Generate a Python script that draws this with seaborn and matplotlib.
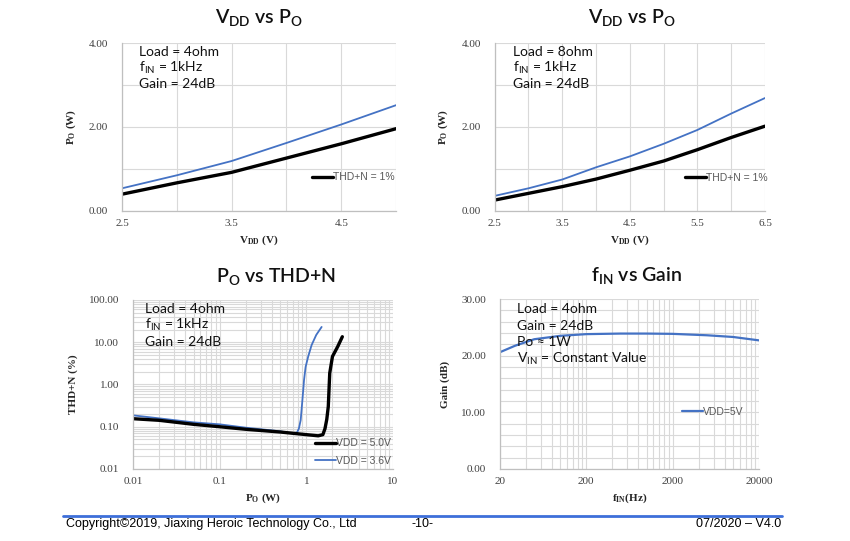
import matplotlib
matplotlib.use("Agg")
import matplotlib.pyplot as plt
import matplotlib.ticker as mticker
from matplotlib.lines import Line2D
import numpy as np
import seaborn as sns

# --- data ---
vdd_4ohm = [2.5, 3.0, 3.5, 4.0, 4.5, 5.0]
po_4ohm_1pct = [0.40, 0.67, 0.92, 1.26, 1.60, 1.96]
po_4ohm_10pct = [0.54, 0.85, 1.19, 1.62, 2.06, 2.52]

vdd_8ohm = [2.5, 3.0, 3.5, 4.0, 4.5, 5.0, 5.5, 6.0, 6.5]
po_8ohm_1pct = [0.26, 0.42, 0.58, 0.76, 0.97, 1.19, 1.46, 1.75, 2.02]
po_8ohm_10pct = [0.36, 0.54, 0.75, 1.04, 1.30, 1.60, 1.93, 2.32, 2.69]

po_5v0 = [0.01, 0.02, 0.05, 0.1, 0.2, 0.5, 1.0, 1.37, 1.55, 1.64, 1.72, 1.79, 1.86, 2.0, 2.3, 2.6]
thd_5v0 = [0.155, 0.142, 0.114, 0.100, 0.087, 0.075, 0.065, 0.061, 0.065, 0.09, 0.15, 0.3, 1.85, 4.6, 7.9, 13.5]
po_3v6 = [0.01, 0.02, 0.05, 0.1, 0.2, 0.5, 0.7, 0.78, 0.82, 0.86, 0.9, 0.94, 0.98, 1.05, 1.15, 1.3, 1.5]
thd_3v6 = [0.186, 0.158, 0.127, 0.114, 0.095, 0.078, 0.069, 0.073, 0.091, 0.144, 0.43, 1.28, 2.6, 4.6, 8.6, 14.9, 23.0]

freq_hz = [20, 30, 50, 100, 200, 500, 1000, 2000, 5000, 10000, 20000]
gain_db = [20.6, 21.75, 22.9, 23.5, 23.8, 23.9, 23.9, 23.85, 23.6, 23.3, 22.7]

BLUE = "#4472C4"
GRID = "#d9d9d9"
SANS = ["Lato", "DejaVu Sans"]
SERIF = "Liberation Serif"

sns.set_style("white")
plt.rcParams["font.family"] = SANS

fig = plt.figure(figsize=(8.5, 5.41), dpi=100)


def style_axes(ax, xlabel, ylabel):
    for side in ("top", "right"):
        ax.spines[side].set_visible(False)
    for side in ("left", "bottom"):
        ax.spines[side].set_color("#bfbfbf")
        ax.spines[side].set_linewidth(0.9)
    ax.grid(True, which="both", color=GRID, lw=0.8)
    ax.set_axisbelow(True)
    ax.tick_params(which="both", length=0, labelsize=8, labelcolor="#404040")
    ax.tick_params(axis="y", pad=10)
    ax.tick_params(axis="x", pad=6)
    for lab in ax.get_xticklabels() + ax.get_yticklabels():
        lab.set_fontfamily(SERIF)
    ax.set_xlabel(xlabel, fontfamily=SERIF, fontweight="bold", fontsize=8, labelpad=4)
    ax.set_ylabel(ylabel, fontfamily=SERIF, fontweight="bold", fontsize=8, labelpad=8)


def notes(ax, x, ys, lines):
    for y, s in zip(ys, lines):
        ax.text(x, y, s, transform=ax.transAxes, fontsize=10, va="center",
                family=SANS, color="#111111")


def legend(ax, handles, labels, x, y, spacing=0.5):
    ax.legend(handles, labels, loc="center left", bbox_to_anchor=(x, y),
              frameon=False, handlelength=2.0, handletextpad=0.0,
              borderpad=0, borderaxespad=0, labelspacing=spacing,
              labelcolor="#595959", prop={"family": "Liberation Sans", "size": 7.5})


vdd_label = r"V$_\mathregular{DD}$ (V)"
po_label = r"P$_\mathregular{O}$ (W)"

# ---- top left: 4 ohm ----
ax1 = fig.add_axes([0.1435, 0.610, 0.3225, 0.3105])
sns.lineplot(x=vdd_4ohm, y=po_4ohm_10pct, ax=ax1, color=BLUE, lw=1.3)
sns.lineplot(x=vdd_4ohm, y=po_4ohm_1pct, ax=ax1, color="black", lw=2.4)
ax1.set_xlim(2.5, 5.0)
ax1.set_ylim(0, 4)
ax1.xaxis.set_major_locator(mticker.FixedLocator([2.5, 3.5, 4.5]))
ax1.xaxis.set_minor_locator(mticker.MultipleLocator(0.5))
ax1.yaxis.set_major_locator(mticker.MultipleLocator(2))
ax1.yaxis.set_minor_locator(mticker.MultipleLocator(1))
ax1.yaxis.set_major_formatter(mticker.FormatStrFormatter("%.2f"))
style_axes(ax1, vdd_label, po_label)
notes(ax1, 0.062, [0.946, 0.851, 0.756],
      ["Load = 4ohm", r"f$_\mathregular{IN}$ = 1kHz", "Gain = 24dB"])
legend(ax1, [ax1.get_lines()[1]], ["THD+N = 1%"], 0.693, 0.20)

# ---- top right: 8 ohm ----
ax2 = fig.add_axes([0.582, 0.610, 0.318, 0.3105])
sns.lineplot(x=vdd_8ohm, y=po_8ohm_10pct, ax=ax2, color=BLUE, lw=1.3)
sns.lineplot(x=vdd_8ohm, y=po_8ohm_1pct, ax=ax2, color="black", lw=2.4)
ax2.set_xlim(2.5, 6.5)
ax2.set_ylim(0, 4)
ax2.xaxis.set_major_locator(mticker.FixedLocator([2.5, 3.5, 4.5, 5.5, 6.5]))
ax2.xaxis.set_minor_locator(mticker.MultipleLocator(0.5))
ax2.yaxis.set_major_locator(mticker.MultipleLocator(2))
ax2.yaxis.set_minor_locator(mticker.MultipleLocator(1))
ax2.yaxis.set_major_formatter(mticker.FormatStrFormatter("%.2f"))
style_axes(ax2, vdd_label, po_label)
notes(ax2, 0.067, [0.946, 0.851, 0.756],
      ["Load = 8ohm", r"f$_\mathregular{IN}$ = 1kHz", "Gain = 24dB"])
legend(ax2, [ax2.get_lines()[1]], ["THD+N = 1%"], 0.704, 0.196)

# ---- bottom left: THD+N ----
ax3 = fig.add_axes([0.1565, 0.1331, 0.3059, 0.3124])
sns.lineplot(x=po_3v6, y=thd_3v6, ax=ax3, color=BLUE, lw=1.3, estimator=None, sort=False)
sns.lineplot(x=po_5v0, y=thd_5v0, ax=ax3, color="black", lw=2.4, estimator=None, sort=False)
ax3.set_xscale("log")
ax3.set_yscale("log")
ax3.set_xlim(0.01, 10)
ax3.set_ylim(0.01, 100)
ax3.xaxis.set_major_locator(mticker.LogLocator(base=10))
ax3.xaxis.set_minor_locator(mticker.LogLocator(base=10, subs=np.arange(2, 10)))
ax3.yaxis.set_major_locator(mticker.LogLocator(base=10))
ax3.yaxis.set_minor_locator(mticker.LogLocator(base=10, subs=np.arange(2, 10)))
ax3.xaxis.set_major_formatter(mticker.FuncFormatter(lambda v, p: f"{v:g}"))
ax3.yaxis.set_major_formatter(mticker.FormatStrFormatter("%.2f"))
ax3.xaxis.set_minor_formatter(mticker.NullFormatter())
ax3.yaxis.set_minor_formatter(mticker.NullFormatter())
style_axes(ax3, r"P$_\mathregular{O}$ (W)", "THD+N (%)")
notes(ax3, 0.046, [0.947, 0.852, 0.751],
      ["Load = 4ohm", r"f$_\mathregular{IN}$ = 1kHz", "Gain = 24dB"])
lines3 = ax3.get_lines()
legend(ax3, [lines3[1], lines3[0]], ["VDD = 5.0V", "VDD = 3.6V"], 0.70, 0.10, spacing=0.75)

# ---- bottom right: gain vs frequency ----
ax4 = fig.add_axes([0.588, 0.1331, 0.305, 0.3142])
sns.lineplot(x=freq_hz, y=gain_db, ax=ax4, color=BLUE, lw=1.6)
ax4.set_xscale("log")
ax4.set_xlim(20, 20000)
ax4.set_ylim(0, 30)
ax4.xaxis.set_major_locator(mticker.FixedLocator([20, 200, 2000, 20000]))
ax4.xaxis.set_minor_locator(mticker.LogLocator(base=10, subs=[0.4, 0.6, 0.8, 1.0, 1.2, 1.4, 1.6, 1.8]))
ax4.xaxis.set_major_formatter(mticker.FuncFormatter(lambda v, p: f"{v:g}"))
ax4.xaxis.set_minor_formatter(mticker.NullFormatter())
ax4.yaxis.set_major_locator(mticker.MultipleLocator(10))
ax4.yaxis.set_minor_locator(mticker.MultipleLocator(2))
ax4.yaxis.set_major_formatter(mticker.FormatStrFormatter("%.2f"))
style_axes(ax4, r"f$_\mathregular{IN}$(Hz)", "Gain (dB)")
notes(ax4, 0.066, [0.941, 0.843, 0.747, 0.647],
      ["Load = 4ohm", "Gain = 24dB", "Po \u2248 1W", r"V$_\mathregular{IN}$ = Constant Value"])
legend(ax4, [ax4.get_lines()[0]], ["VDD=5V"], 0.703, 0.335)

# ---- panel titles ----
title_kw = dict(ha="center", va="center", fontsize=14, fontweight="semibold",
                family=SANS, color="#111111")
fig.text(0.305, 0.967, r"V$_\mathregular{DD}$ vs P$_\mathregular{O}$", **title_kw)
fig.text(0.7435, 0.967, r"V$_\mathregular{DD}$ vs P$_\mathregular{O}$", **title_kw)
fig.text(0.325, 0.488, r"P$_\mathregular{O}$ vs THD+N", **title_kw)
fig.text(0.749, 0.490, r"f$_\mathregular{IN}$ vs Gain", **title_kw)

# ---- page footer ----
fig.add_artist(Line2D([63 / 850, 782 / 850], [1 - 516 / 541] * 2, color="#3d6fd9", lw=2))
foot_kw = dict(va="center", fontsize=9, family="Liberation Sans", color="black")
fig.text(66 / 850, 1 - 524 / 541, "Copyright\u00a92019, Jiaxing Heroic Technology Co., Ltd", ha="left", **foot_kw)
fig.text(412 / 850, 1 - 524 / 541, "-10-", ha="left", **foot_kw)
fig.text(781 / 850, 1 - 524 / 541, "07/2020 \u2013 V4.0", ha="right", **foot_kw)

fig.savefig("out.png", dpi=100, facecolor="white")
